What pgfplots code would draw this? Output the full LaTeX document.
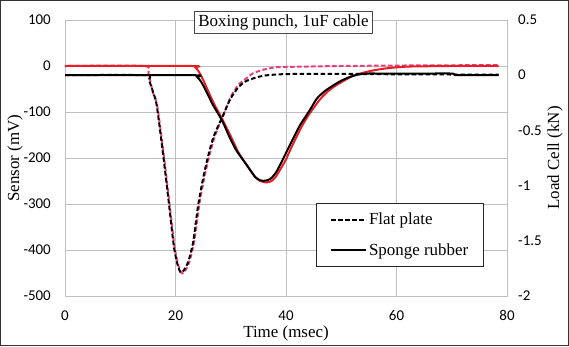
\documentclass[border=0pt]{standalone}
\usepackage{fontspec}
\setmainfont{Liberation Serif}
\newfontfamily\tickfont{Carlito}
\usepackage{pgfplots}
\pgfplotsset{compat=1.18}

\definecolor{gridgray}{RGB}{191,191,191}
\definecolor{framegray}{RGB}{70,70,70}
\definecolor{sensorred}{RGB}{235,28,36}
\definecolor{sensorpink}{RGB}{232,62,122}

\pgfplotsset{
  chartbase/.style={
    at={(65bp,50bp)}, anchor=south west,
    scale only axis, width=442bp, height=276bp,
    xmin=0, xmax=80,
    xtick={0,20,40,60,80},
    major tick length=0pt,
    /pgf/number format/assume math mode=true,
    ticklabel style={font=\tickfont\fontsize{15}{15}\selectfont, inner sep=0pt},
    label style={font=\fontsize{17}{17}\selectfont},
    axis line style={gridgray, line width=0.9bp},
  },
}

\begin{document}
\begin{tikzpicture}[x=1bp,y=1bp]
\path[use as bounding box] (0,0) rectangle (569,346);
\draw[black!80, line width=1.2bp] (0.6,0.6) rectangle (568.4,345.4);

% Sensor output (left axis, mV)
\begin{axis}[chartbase,
  ymin=-500, ymax=100, ytick={-500,-400,-300,-200,-100,0,100},
  grid=major, grid style={gridgray, line width=0.9bp},
  xticklabel style={anchor=north, yshift=-14.5bp},
  yticklabel style={anchor=east, xshift=-14bp},
  xlabel={Time (msec)}, ylabel={Sensor (mV)},
  xlabel style={at={(axis description cs:0.5,-0.134)}, anchor=center},
  ylabel style={at={(axis description cs:-0.113,0.5)}, rotate=0, anchor=center},
]
% flat plate
\addplot[sensorpink, line width=2bp, dash pattern=on 4.5bp off 2.5bp, dash phase=3.5bp, smooth, tension=0.4] coordinates {
(0,0) (14.3,0) (15.1,-17) (15.9,-57) (16.7,-87) (17.9,-196) (18.9,-298)
(19.8,-391) (20.5,-433) (21.1,-450) (21.6,-448) (22.5,-426) (23.4,-380)
(24.3,-302) (25.2,-243) (26.1,-196) (27.0,-157) (27.9,-128) (28.6,-109)
(30.0,-67) (31.4,-41) (32.9,-26) (34.0,-16) (35.9,-8) (38,-3) (40,-2)
(45,-1) (50,0) (60,1) (78.5,2)
};
% sponge rubber
\addplot[sensorred, line width=2bp, smooth, tension=0.4] coordinates {
(0,0) (23.0,0) (23.6,-3) (24.2,-12) (25.0,-30) (26.8,-78) (28.4,-114)
(29.9,-150) (31.4,-188) (32.9,-215) (34.4,-241) (35.4,-250) (36.3,-253)
(37.0,-252) (37.6,-248) (38.2,-240) (38.9,-226) (40.1,-201) (40.4,-192)
(41.9,-154) (43.1,-126) (44.3,-103) (46.2,-72) (47.7,-54) (49.2,-41)
(52.2,-21) (55.2,-11) (58.2,-5) (61,-2) (63,-1) (70,0) (78.5,0)
};
\end{axis}

% Load cell (right axis, kN)
\begin{axis}[chartbase,
  ymin=-2, ymax=0.5, ytick={-2,-1.5,-1,-0.5,0,0.5},
  axis y line*=right, axis x line=none,
  yticklabel style={anchor=west, xshift=11bp},
  ylabel={Load Cell (kN)},
  ylabel style={at={(axis description cs:1.1086,0.5)}, rotate=0, anchor=center},
  legend cell align=left,
  legend image code/.code={\draw[#1] (0bp,0bp) -- (35bp,0bp);},
  legend style={at={(axis description cs:0.568,0.338)}, anchor=north west,
    draw=black!85, line width=1bp, fill=white,
    inner xsep=13.5bp, inner ysep=8bp, row sep=13bp,
    nodes={inner sep=2bp}, font=\fontsize{17}{17}\selectfont,
    cells={anchor=west}},
]
\addplot[black, line width=2bp, dash pattern=on 4.5bp off 2.5bp, smooth, tension=0.4] coordinates {
(0,0) (14.5,0) (15.2,-0.045) (16.0,-0.163) (16.6,-0.272) (17.8,-0.734)
(18.8,-1.159) (19.7,-1.549) (20.4,-1.721) (20.9,-1.784) (21.4,-1.775)
(22.3,-1.691) (23.2,-1.510) (24.1,-1.178) (25.0,-0.933) (25.9,-0.734)
(26.8,-0.571) (27.7,-0.462) (28.4,-0.389) (29.9,-0.217) (31.4,-0.109)
(32.9,-0.050) (35.9,-0.005) (40,0.010) (50,0.012) (60,0.008) (78.5,0.005)
};
\addlegendentry{Flat plate}
\addplot[black, line width=2bp, smooth, tension=0.4] coordinates {
(0,0) (23.2,0) (23.9,-0.015) (24.5,-0.05) (25.0,-0.091) (26.0,-0.19)
(26.8,-0.272) (28.4,-0.408) (29.9,-0.574) (31.0,-0.68) (32.9,-0.815)
(34.4,-0.921) (35.3,-0.952) (35.9,-0.957) (36.7,-0.950) (37.4,-0.930)
(38.2,-0.88) (38.9,-0.815) (39.5,-0.755) (40.4,-0.664) (41.9,-0.513)
(42.5,-0.455) (44.3,-0.317) (45.6,-0.211) (47,-0.145) (48.6,-0.091)
(50,-0.05) (51.6,-0.015) (53,0.005) (54.6,0.015) (57.7,0.015) (65,0.015)
(70,0.015) (70.6,0.002) (71.2,0) (78.5,0)
};
\addlegendentry{Sponge rubber}
\end{axis}

\node[draw=framegray, line width=1bp, fill=white, inner xsep=4bp, inner ysep=3bp,
  font=\fontsize{17}{17}\selectfont] at (283.5,323.5) {Boxing punch, 1uF cable};
\end{tikzpicture}
\end{document}
